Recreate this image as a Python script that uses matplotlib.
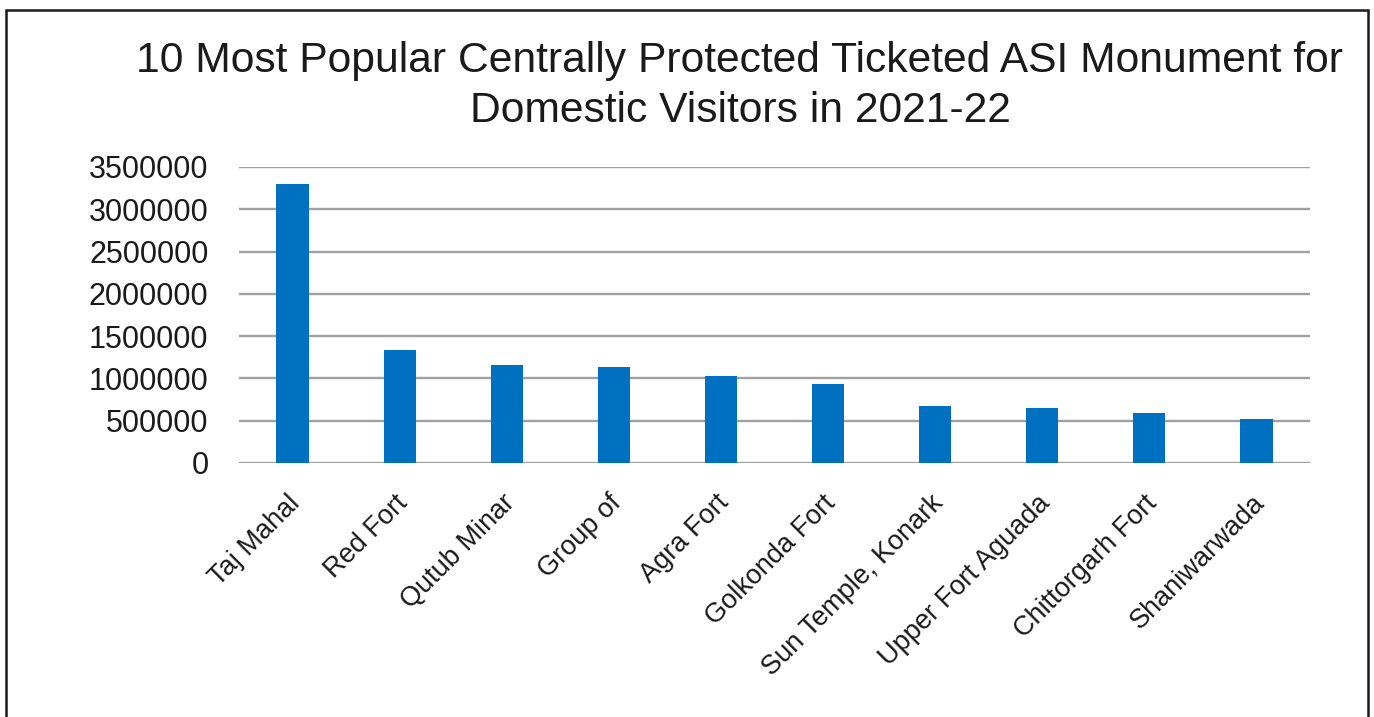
import matplotlib.pyplot as plt
from matplotlib.patches import Rectangle
from matplotlib.transforms import ScaledTranslation

plt.rcParams['font.family'] = ['Liberation Sans', 'DejaVu Sans']

monuments = ['Taj Mahal', 'Red Fort', 'Qutub Minar', 'Group of', 'Agra Fort',
             'Golkonda Fort', 'Sun Temple, Konark', 'Upper Fort Aguada',
             'Chittorgarh Fort', 'Shaniwarwada']
visitors = [3298000, 1331000, 1153000, 1141000, 1031000,
            940000, 679000, 652000, 592000, 521000]
y_ticks = [0, 500000, 1000000, 1500000, 2000000, 2500000, 3000000, 3500000]

W, H = 1374, 717
fig = plt.figure(figsize=(W / 100, H / 100), dpi=100)
ax = fig.add_axes([239 / W, 1 - 463 / H, (1310 - 239) / W, (463 - 167) / H])

x = list(range(len(monuments)))
ax.bar(x, visitors, width=0.3, color='#0070C0', zorder=3)

ax.set_xlim(-0.5, len(monuments) - 0.5)
ax.set_ylim(0, 3500000)
ax.set_yticks(y_ticks)
ax.set_yticklabels([str(v) for v in y_ticks], fontsize=22, color='#1a1a1a')
ax.tick_params(axis='y', length=0, pad=22)
ax.tick_params(axis='x', length=0, pad=26)
ax.yaxis.grid(True, color='#a0a0a0', linewidth=1.7, zorder=0)
ax.set_axisbelow(True)
for side in ['top', 'right', 'left', 'bottom']:
    ax.spines[side].set_visible(False)

ax.set_xticks(x)
labels = ax.set_xticklabels(monuments, rotation=45, ha='right', va='center',
                            rotation_mode='anchor', fontsize=19.5, color='#1a1a1a')
shift = ScaledTranslation(4 / 100, 0, fig.dpi_scale_trans)
for lab in labels:
    lab.set_transform(lab.get_transform() + shift)

fig.text(740 / W, 1 - 72 / H, '10 Most Popular Centrally Protected Ticketed ASI Monument for',
         ha='center', va='baseline', fontsize=30.7, color='#1a1a1a')
fig.text(740 / W, 1 - 122 / H, 'Domestic Visitors in 2021-22',
         ha='center', va='baseline', fontsize=30.7, color='#1a1a1a')

fig.patches.append(Rectangle((6 / W, -0.02), (1368 - 6) / W, 1.02 - 10 / H,
                             transform=fig.transFigure, fill=False,
                             edgecolor='#1a1a1a', linewidth=1.8))

fig.savefig('out.png', dpi=100, facecolor='white')
